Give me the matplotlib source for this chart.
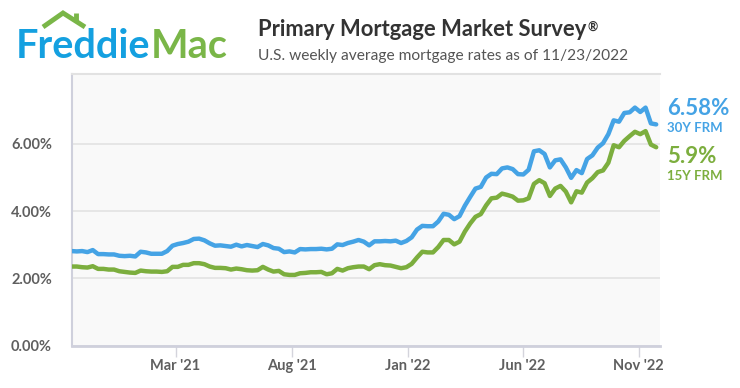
import numpy as np
import pandas as pd
import matplotlib
matplotlib.use("Agg")
import matplotlib.pyplot as plt
from matplotlib.lines import Line2D

BLUE = "#45a3e5"
GREEN = "#7cae3e"
LOGO_BLUE = "#14a0e0"
LOGO_GREEN = "#7ab648"
DARK = "#333333"
GREY = "#5f5f5f"

# weekly PMMS rates, 2020-10-15 .. 2022-11-23
start = "2020-10-15"
rate_30y = [
    2.81, 2.80, 2.81, 2.78, 2.84, 2.72, 2.72, 2.71, 2.71, 2.67, 2.66, 2.67,
    2.65, 2.79, 2.77, 2.73, 2.73, 2.73, 2.81, 2.97, 3.02, 3.05, 3.09, 3.17, 3.18,
    3.13, 3.04, 2.97, 2.98, 2.96, 2.94, 3.00, 2.95, 2.99, 2.96, 2.93, 3.02,
    2.98, 2.90, 2.88, 2.78, 2.80, 2.77, 2.87, 2.86, 2.87, 2.87, 2.88, 2.86, 2.88,
    3.01, 2.99, 3.05, 3.09, 3.14, 3.09, 2.98, 3.10, 3.10, 3.11, 3.10, 3.12, 3.05, 3.11,
    3.22, 3.45, 3.56, 3.55, 3.55, 3.69, 3.92, 3.89, 3.76, 3.85, 4.16, 4.42, 4.67,
    4.72, 5.00, 5.11, 5.10, 5.27, 5.30, 5.25, 5.10, 5.09, 5.23, 5.78, 5.81, 5.70,
    5.30, 5.51, 5.54, 5.30, 4.99, 5.22, 5.13, 5.55, 5.66, 5.89, 6.02, 6.29, 6.70,
    6.66, 6.92, 6.94, 7.08, 6.95, 7.08, 6.61, 6.58,
]
rate_15y = [
    2.35, 2.35, 2.33, 2.32, 2.36, 2.28, 2.28, 2.26, 2.26, 2.21, 2.19, 2.17,
    2.16, 2.23, 2.21, 2.20, 2.20, 2.19, 2.21, 2.34, 2.34, 2.40, 2.40, 2.45, 2.45,
    2.42, 2.35, 2.31, 2.31, 2.30, 2.26, 2.29, 2.27, 2.24, 2.23, 2.24, 2.34,
    2.26, 2.20, 2.22, 2.12, 2.10, 2.10, 2.15, 2.16, 2.18, 2.18, 2.19, 2.12, 2.15,
    2.28, 2.23, 2.30, 2.33, 2.35, 2.35, 2.27, 2.39, 2.42, 2.39, 2.38, 2.34, 2.30, 2.33,
    2.43, 2.62, 2.79, 2.77, 2.77, 2.93, 3.14, 3.14, 3.01, 3.09, 3.39, 3.63, 3.83,
    3.91, 4.17, 4.38, 4.40, 4.52, 4.48, 4.43, 4.31, 4.32, 4.38, 4.81, 4.92, 4.83,
    4.45, 4.67, 4.75, 4.58, 4.26, 4.59, 4.55, 4.85, 4.98, 5.16, 5.21, 5.44, 5.96,
    5.90, 6.09, 6.23, 6.36, 6.29, 6.38, 5.98, 5.90,
]
dates = pd.date_range(start, periods=len(rate_30y), freq="7D")
tick_dates = pd.to_datetime(["2021-03-01", "2021-08-01", "2022-01-01", "2022-06-01", "2022-11-01"])
tick_labels = ["Mar '21", "Aug '21", "Jan '22", "Jun '22", "Nov '22"]
y_ticks = [0, 2, 4, 6]

plt.rcParams["font.family"] = ["Lato", "DejaVu Sans"]

W, H = 740, 388
fig = plt.figure(figsize=(W / 100, H / 100), dpi=100)
fig.patch.set_facecolor("white")


def px(x, y):
    return x / W, 1 - y / H


ax = fig.add_axes([71.5 / W, 1 - 345.5 / H, (660 - 71.5) / W, (345.5 - 74) / H])
ax.set_facecolor("#f9f9f9")
ax.plot(dates, rate_30y, color=BLUE, lw=3.2, solid_capstyle="round", solid_joinstyle="round", zorder=3)
ax.plot(dates, rate_15y, color=GREEN, lw=3.2, solid_capstyle="round", solid_joinstyle="round", zorder=3)
ax.set_xlim(dates[0], dates[-1] + pd.Timedelta(days=5))
ax.set_ylim(0, 8.08)

ax.set_yticks(y_ticks)
ax.set_yticklabels([f"{v:.2f}%" for v in y_ticks])
ax.yaxis.grid(True, color="#e3e3e3", lw=1.2)
ax.set_axisbelow(True)
ax.tick_params(axis="y", length=0, pad=14, labelsize=10.5, labelcolor=GREY)
for t in ax.get_yticklabels():
    t.set_fontweight("bold")

ax.set_xticks(tick_dates)
ax.set_xticklabels(tick_labels)
ax.tick_params(axis="x", length=8, width=1, color="#d4d4dc", pad=2, labelsize=10.5, labelcolor=GREY)
for t in ax.get_xticklabels():
    t.set_fontweight("bold")

ax.spines["right"].set_visible(False)
ax.spines["top"].set_color("#e2e2e2")
ax.spines["top"].set_linewidth(1.5)
ax.spines["left"].set_color("#cfd0dc")
ax.spines["left"].set_linewidth(1.5)
ax.spines["bottom"].set_color("#cfd0dc")
ax.spines["bottom"].set_linewidth(2)

# end labels
ax.annotate(f"{rate_30y[-1]:.2f}%", xy=(1, rate_30y[-1]), xycoords=("axes fraction", "data"),
            xytext=(7, 16), textcoords="offset pixels", ha="left", va="center",
            fontsize=16, fontweight="bold", color=BLUE, annotation_clip=False)
ax.annotate("30Y FRM", xy=(1, rate_30y[-1]), xycoords=("axes fraction", "data"),
            xytext=(7, -4), textcoords="offset pixels", ha="left", va="center",
            fontsize=9.5, fontweight="bold", color=BLUE, annotation_clip=False)
ax.annotate(f"{rate_15y[-1]:.1f}%", xy=(1, rate_15y[-1]), xycoords=("axes fraction", "data"),
            xytext=(7, -9), textcoords="offset pixels", ha="left", va="center",
            fontsize=16, fontweight="bold", color=GREEN, annotation_clip=False)
ax.annotate("15Y FRM", xy=(1, rate_15y[-1]), xycoords=("axes fraction", "data"),
            xytext=(7, -29), textcoords="offset pixels", ha="left", va="center",
            fontsize=9.5, fontweight="bold", color=GREEN, annotation_clip=False)

# logo
fig.text(*px(16, 58), "Freddie", fontsize=28.5, fontweight="bold", color=LOGO_BLUE, va="baseline", ha="left")
fig.text(*px(151, 58), "Mac", fontsize=28.5, fontweight="bold", color=LOGO_GREEN, va="baseline", ha="left")
rx = [43, 63, 85]
ry = [27, 13, 27]
fig.add_artist(Line2D([px(x, 0)[0] for x in rx], [px(0, y)[1] for y in ry], color=LOGO_GREEN, lw=3.5,
                      solid_joinstyle="miter", solid_capstyle="butt", transform=fig.transFigure))
fig.add_artist(Line2D([px(76, 0)[0]] * 2, [px(0, 13)[1], px(0, 21)[1]], color=LOGO_GREEN, lw=3.5,
                      solid_capstyle="butt", transform=fig.transFigure))

# title, with a small raised registered mark after it
title = fig.text(*px(258, 30), "Primary Mortgage Market Survey", fontsize=15.8, fontweight="bold",
                 color=DARK, va="center", ha="left")
fig.add_artist(matplotlib.text.Annotation("\u00ae", xy=(1, 0.95), xycoords=title, xytext=(1, 0),
                                          textcoords="offset points", ha="left", va="top",
                                          fontsize=9, fontweight="bold", color=DARK))
fig.text(*px(258, 56), "U.S. weekly average mortgage rates as of 11/23/2022", fontsize=11.2,
         color="#555555", va="center", ha="left")

fig.savefig("out.png", dpi=100, facecolor="white")
